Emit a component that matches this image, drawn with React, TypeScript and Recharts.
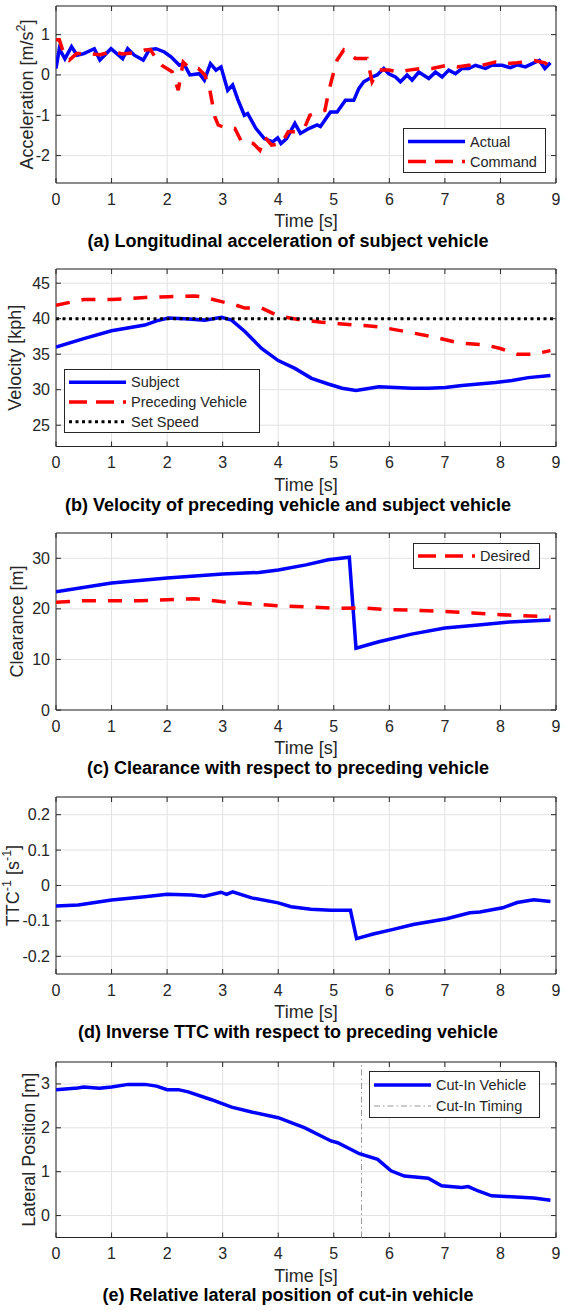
import React from 'react';
import { LineChart, Line, XAxis, YAxis, CartesianGrid, ReferenceArea, ReferenceLine, Legend } from 'recharts';

const FONT = '"Liberation Sans", Arial, Helvetica, sans-serif';
const TXT = '#262626';
const W = 571;
const PLOT_LEFT = 56;
const PLOT_RIGHT = 556;
const MT = 10;
const XAXIS_H = 50;
const BLUE = '#0000ff';
const RED = '#ff0000';
const TICK_FS = 16;
const LABEL_FS = 18;

const timeTicks = [0, 1, 2, 3, 4, 5, 6, 7, 8, 9];

// (a) acceleration
const accActualT = [0, 0.06, 0.16, 0.28, 0.38, 0.5, 0.69, 0.79, 0.99, 1.2, 1.29, 1.41, 1.57, 1.68, 1.8, 1.95, 2.07, 2.22, 2.3, 2.41, 2.58, 2.67, 2.78, 2.88, 2.97, 3.09, 3.18, 3.27, 3.39, 3.45, 3.6, 3.75, 3.9, 3.99, 4.05, 4.15, 4.3, 4.4, 4.55, 4.7, 4.76, 4.94, 5.06, 5.21, 5.36, 5.45, 5.54, 5.69, 5.78, 5.9, 5.99, 6.11, 6.2, 6.32, 6.41, 6.53, 6.71, 6.83, 6.95, 7.07, 7.19, 7.31, 7.43, 7.55, 7.73, 7.85, 8.03, 8.18, 8.3, 8.45, 8.6, 8.7, 8.8, 8.9];
const accActualV = [0.16, 0.65, 0.4, 0.7, 0.49, 0.53, 0.65, 0.37, 0.65, 0.4, 0.65, 0.49, 0.37, 0.63, 0.65, 0.57, 0.45, 0.24, 0.28, 0.0, 0.03, -0.13, 0.28, 0.12, 0.2, -0.38, -0.25, -0.6, -1.0, -0.96, -1.33, -1.58, -1.66, -1.56, -1.7, -1.58, -1.2, -1.45, -1.33, -1.24, -1.28, -0.92, -0.92, -0.63, -0.63, -0.34, -0.17, -0.05, 0.0, 0.16, 0.03, -0.05, -0.17, 0.0, -0.13, 0.07, -0.09, 0.07, -0.05, 0.12, 0.03, 0.16, 0.16, 0.24, 0.16, 0.24, 0.24, 0.18, 0.25, 0.2, 0.3, 0.36, 0.16, 0.3];
const accCmdT = [0, 0.06, 0.12, 0.24, 0.37, 0.58, 0.8, 1.0, 1.2, 1.4, 1.6, 1.7, 1.78, 1.9, 2.09, 2.2, 2.29, 2.41, 2.56, 2.68, 2.77, 2.86, 2.92, 3.07, 3.22, 3.34, 3.55, 3.67, 3.76, 3.88, 4.06, 4.18, 4.3, 4.48, 4.57, 4.84, 4.9, 4.96, 5.06, 5.18, 5.39, 5.6, 5.69, 5.81, 5.99, 6.17, 6.35, 6.59, 6.77, 7.04, 7.22, 7.43, 7.67, 7.91, 8.09, 8.3, 8.6, 8.8, 8.9];
const accCmdV = [0.87, 0.87, 0.62, 0.37, 0.53, 0.53, 0.5, 0.58, 0.52, 0.55, 0.62, 0.63, 0.45, 0.24, 0.08, -0.38, 0.32, 0.16, 0.16, 0.0, -0.38, -1.04, -1.24, -1.33, -1.33, -1.66, -1.7, -1.87, -1.54, -1.74, -1.7, -1.41, -1.41, -1.29, -1.0, -0.88, -0.47, -0.13, 0.37, 0.62, 0.41, 0.41, -0.17, 0.12, 0.12, 0.07, 0.12, 0.16, 0.16, 0.24, 0.2, 0.24, 0.24, 0.32, 0.28, 0.3, 0.36, 0.3, 0.2];
const accTicks = [-2, -1, 0, 1];

// (b) velocity
const velSubjT = [0, 0.5, 1.0, 1.6, 1.81, 2.02, 2.32, 2.68, 2.98, 3.16, 3.4, 3.7, 4.0, 4.3, 4.6, 4.9, 5.15, 5.4, 5.57, 5.81, 6.11, 6.41, 6.71, 7.01, 7.31, 7.61, 7.91, 8.21, 8.5, 8.9];
const velSubjV = [36.0, 37.2, 38.3, 39.1, 39.7, 40.1, 40.0, 39.8, 40.2, 39.8, 38.2, 35.8, 34.1, 33.0, 31.6, 30.8, 30.2, 29.9, 30.1, 30.4, 30.3, 30.2, 30.2, 30.3, 30.6, 30.8, 31.0, 31.3, 31.7, 32.0];
const velPrecT = [0, 0.25, 0.5, 1.0, 1.6, 2.02, 2.5, 2.68, 2.98, 3.2, 3.4, 3.7, 4.0, 4.36, 4.78, 5.1, 5.38, 5.6, 5.86, 6.28, 6.82, 7.25, 7.73, 8.0, 8.3, 8.6, 8.9];
const velPrecV = [41.9, 42.3, 42.7, 42.7, 43.0, 43.1, 43.2, 43.0, 42.4, 42.0, 41.5, 41.5, 40.4, 39.9, 39.5, 39.3, 39.1, 39.0, 38.8, 38.2, 37.4, 36.6, 36.3, 35.8, 35.0, 35.0, 35.5];
const setSpeedT = [0, 9];
const setSpeedV = [40, 40];
const velTicks = [25, 30, 35, 40, 45];

// (c) clearance
const clrSubjT = [0, 1, 2, 3, 3.65, 4.0, 4.5, 4.9, 5.28, 5.4, 5.81, 6.4, 7.0, 7.6, 8.16, 8.9];
const clrSubjV = [23.4, 25.1, 26.1, 26.9, 27.2, 27.7, 28.7, 29.7, 30.2, 12.2, 13.5, 15.0, 16.2, 16.8, 17.4, 17.8];
const clrDesT = [0, 0.5, 1.5, 2.0, 2.5, 3.0, 3.5, 4.0, 4.5, 5.0, 5.5, 5.9, 6.5, 7.0, 7.5, 8.1, 8.9];
const clrDesV = [21.3, 21.6, 21.6, 21.8, 22.0, 21.4, 21.0, 20.6, 20.4, 20.1, 20.2, 19.9, 19.7, 19.5, 19.2, 18.8, 18.4];
const clrTicks = [0, 10, 20, 30];

// (d) inverse TTC
const ttcT = [0, 0.4, 1.0, 1.6, 2.0, 2.44, 2.67, 2.97, 3.07, 3.18, 3.52, 4.0, 4.23, 4.59, 4.95, 5.3, 5.41, 5.71, 6.07, 6.43, 7.03, 7.45, 7.63, 8.04, 8.3, 8.6, 8.9];
const ttcV = [-0.058, -0.055, -0.041, -0.032, -0.025, -0.027, -0.03, -0.019, -0.025, -0.018, -0.035, -0.049, -0.06, -0.067, -0.07, -0.07, -0.15, -0.137, -0.124, -0.11, -0.094, -0.077, -0.075, -0.063, -0.048, -0.04, -0.045];
const ttcTicks = [-0.2, -0.1, 0, 0.1, 0.2];
const ttcTickLabels = ['-0.2', '-0.1', '0', '0.1', '0.2'];

// (e) lateral position
const latT = [0, 0.39, 0.5, 0.78, 1.0, 1.3, 1.6, 1.81, 2.0, 2.2, 2.38, 2.8, 3.16, 3.52, 4.0, 4.48, 4.95, 5.07, 5.46, 5.79, 6.03, 6.27, 6.7, 6.94, 7.3, 7.42, 7.6, 7.84, 8.2, 8.6, 8.9];
const latV = [2.87, 2.91, 2.93, 2.9, 2.93, 2.99, 2.99, 2.95, 2.87, 2.87, 2.82, 2.64, 2.47, 2.36, 2.23, 2.0, 1.7, 1.66, 1.41, 1.28, 1.02, 0.9, 0.85, 0.68, 0.64, 0.66, 0.56, 0.45, 0.43, 0.4, 0.35];
const cutInTiming = [5.5];
const latTicks = [0, 1, 2, 3];

const pts = (t: number[], v: number[]) => t.map((x, i) => ({ t: x, v: v[i] }));

type Ser = { name: string; data: { t: number; v: number }[]; color: string; width: number; dash?: string; legendDash?: string };
type LegendSpec = { left: number; top: number; w: number; h: number; items: Ser[] };

const DASH = '14 12';
const LDASH = '18 9';
const DOT = '3 3.5';
const DASHDOT = '6 3 1.5 3';
const CUT_COLOR = '#8a8a8a';

function LegendBox({ spec }: { spec: LegendSpec }) {
  const n = spec.items.length;
  const rowH = n === 1 ? spec.h : (spec.h - 5) / n;
  const pad = n === 1 ? 0 : 2.5;
  return (
    <svg width={spec.w} height={spec.h} style={{ display: 'block' }}>
      <rect x={0.5} y={0.5} width={spec.w - 1} height={spec.h - 1} fill="#ffffff" stroke={TXT} strokeWidth={1} />
      {spec.items.map((it, i) => {
        const cy = pad + rowH * (i + 0.5) + (n === 1 ? 0 : 1);
        return (
          <g key={it.name}>
            <line x1={5} x2={62} y1={cy} y2={cy} stroke={it.color} strokeWidth={it.width} strokeDasharray={it.legendDash} />
            <text x={67} y={cy} dominantBaseline="central" fontSize={14.5} fill={TXT} fontFamily={FONT}>{it.name}</text>
          </g>
        );
      })}
    </svg>
  );
}

type PanelProps = {
  plotTop: number;
  plotBottom: number;
  domain: [number, number];
  yTicks: number[];
  yTickLabels?: string[];
  yLabel: React.ReactNode;
  yLabelX: number;
  caption: string;
  series: Ser[];
  legend?: LegendSpec;
  vlines?: { x: number; color: string; dash: string; width: number }[];
};

function Panel(p: PanelProps) {
  const T = p.plotTop - MT;
  const plotH = p.plotBottom - p.plotTop;
  const H = MT + plotH + XAXIS_H;
  const yb = MT + plotH;

  const xTick = (props: any) => {
    const { x, payload } = props;
    return (
      <g>
        <line x1={x} x2={x} y1={yb} y2={yb - 5} stroke={TXT} strokeWidth={1} />
        <line x1={x} x2={x} y1={MT} y2={MT + 5} stroke={TXT} strokeWidth={1} />
        <text x={x} y={yb + 16} textAnchor="middle" dominantBaseline="central" fontSize={TICK_FS} fill={TXT} fontFamily={FONT}>{payload.value}</text>
      </g>
    );
  };
  const yTick = (props: any) => {
    const { y, payload, index } = props;
    const label = p.yTickLabels ? p.yTickLabels[index] : String(payload.value);
    return (
      <g>
        <line x1={PLOT_LEFT} x2={PLOT_LEFT + 5} y1={y} y2={y} stroke={TXT} strokeWidth={1} />
        <line x1={PLOT_RIGHT - 5} x2={PLOT_RIGHT} y1={y} y2={y} stroke={TXT} strokeWidth={1} />
        <text x={PLOT_LEFT - 6} y={y} textAnchor="end" dominantBaseline="central" fontSize={TICK_FS} fill={TXT} fontFamily={FONT}>{label}</text>
      </g>
    );
  };
  const xLabel = () => (
    <text x={(PLOT_LEFT + PLOT_RIGHT) / 2} y={yb + 38} textAnchor="middle" dominantBaseline="central" fontSize={LABEL_FS} fill={TXT} fontFamily={FONT}>Time [s]</text>
  );
  const cy = MT + plotH / 2;
  const yLabel = () => (
    <text x={p.yLabelX} y={cy} transform={`rotate(-90 ${p.yLabelX} ${cy})`} textAnchor="middle" dominantBaseline="central" fontSize={LABEL_FS} fill={TXT} fontFamily={FONT}>{p.yLabel}</text>
  );

  return (
    <>
      <div style={{ position: 'absolute', left: 0, top: T, width: W, height: H }}>
        <LineChart width={W} height={H} margin={{ top: MT, right: W - PLOT_RIGHT, bottom: 0, left: 0 }}>
          <CartesianGrid stroke="#e2e2e2" strokeWidth={1} />
          <XAxis dataKey="t" type="number" domain={[0, 9]} ticks={timeTicks} interval={0} height={XAXIS_H} tickSize={0} tickMargin={0} axisLine={false} tickLine={false} tick={xTick} allowDataOverflow label={xLabel} />
          <YAxis type="number" domain={p.domain} ticks={p.yTicks} interval={0} width={PLOT_LEFT} tickSize={0} tickMargin={0} axisLine={false} tickLine={false} tick={yTick} allowDataOverflow label={yLabel} />
          {(p.vlines || []).map((v, i) => (
            <ReferenceLine key={'v' + i} x={v.x} stroke={v.color} strokeDasharray={v.dash} strokeWidth={v.width} />
          ))}
          {p.series.map((s) => (
            <Line key={s.name} name={s.name} data={s.data} dataKey="v" type="linear" stroke={s.color} strokeWidth={s.width} strokeDasharray={s.dash} dot={false} activeDot={false} isAnimationActive={false} />
          ))}
          <ReferenceArea x1={0} x2={9} y1={p.domain[0]} y2={p.domain[1]} fill="none" stroke={TXT} strokeWidth={1} />
          {p.legend ? (
            <Legend layout="horizontal" verticalAlign="middle" align="center" content={() => <LegendBox spec={p.legend as LegendSpec} />}
              wrapperStyle={{ left: p.legend.left, top: p.legend.top - T, width: p.legend.w, height: p.legend.h, right: 'auto', bottom: 'auto' }} />
          ) : null}
        </LineChart>
      </div>
      <div style={{ position: 'absolute', left: 0, top: p.plotBottom + 58 - 12, width: 576, height: 24, lineHeight: '24px', textAlign: 'center', fontFamily: FONT, fontWeight: 'bold', fontSize: 18, color: '#000', whiteSpace: 'nowrap' }}>
        {p.caption}
      </div>
    </>
  );
}

export default function App() {
  const sA: Ser[] = [
    { name: 'Actual', data: pts(accActualT, accActualV), color: BLUE, width: 3.5 },
    { name: 'Command', data: pts(accCmdT, accCmdV), color: RED, width: 3.5, dash: DASH, legendDash: LDASH },
  ];
  const sB: Ser[] = [
    { name: 'Subject', data: pts(velSubjT, velSubjV), color: BLUE, width: 3.5 },
    { name: 'Preceding Vehicle', data: pts(velPrecT, velPrecV), color: RED, width: 3.5, dash: DASH, legendDash: LDASH },
    { name: 'Set Speed', data: pts(setSpeedT, setSpeedV), color: '#000000', width: 3, dash: DOT, legendDash: DOT },
  ];
  const sCsubj: Ser = { name: 'Subject', data: pts(clrSubjT, clrSubjV), color: BLUE, width: 3.5 };
  const sCdes: Ser = { name: 'Desired', data: pts(clrDesT, clrDesV), color: RED, width: 3.5, dash: DASH, legendDash: LDASH };
  const sD: Ser[] = [{ name: 'TTC', data: pts(ttcT, ttcV), color: BLUE, width: 3.5 }];
  const sE: Ser[] = [{ name: 'Cut-In Vehicle', data: pts(latT, latV), color: BLUE, width: 3.5 }];
  const cutItem: Ser = { name: 'Cut-In Timing', data: [], color: CUT_COLOR, width: 0.9, legendDash: DASHDOT };

  return (
    <div style={{ position: 'absolute', left: 0, top: 0, width: W, height: 1310, background: '#fff' }}>
      <Panel plotTop={6} plotBottom={183} domain={[-2.68, 1.71]} yTicks={accTicks}
        yLabel={<><tspan>Acceleration [m/s</tspan><tspan dy={-6} fontSize={12.5}>2</tspan><tspan dy={6}>]</tspan></>}
        yLabelX={27} caption="(a) Longitudinal acceleration of subject vehicle" series={sA}
        legend={{ left: 403, top: 128, w: 143, h: 45, items: sA }} />
      <Panel plotTop={269} plotBottom={446.5} domain={[22, 47]} yTicks={velTicks}
        yLabel="Velocity [kph]" yLabelX={15} caption="(b) Velocity of preceding vehicle and subject vehicle" series={sB}
        legend={{ left: 64, top: 369, w: 196, h: 64, items: sB }} />
      <Panel plotTop={533} plotBottom={710} domain={[0, 35]} yTicks={clrTicks}
        yLabel="Clearance [m]" yLabelX={17} caption="(c) Clearance with respect to preceding vehicle" series={[sCsubj, sCdes]}
        legend={{ left: 413, top: 543, w: 127, h: 26, items: [sCdes] }} />
      <Panel plotTop={797} plotBottom={974} domain={[-0.25, 0.25]} yTicks={ttcTicks} yTickLabels={ttcTickLabels}
        yLabel={<><tspan>TTC</tspan><tspan dy={-6} fontSize={12.5}>-1</tspan><tspan dy={6}> [s</tspan><tspan dy={-6} fontSize={12.5}>-1</tspan><tspan dy={6}>]</tspan></>}
        yLabelX={13} caption="(d) Inverse TTC with respect to preceding vehicle" series={sD} />
      <Panel plotTop={1061.5} plotBottom={1237} domain={[-0.5, 3.5]} yTicks={latTicks}
        yLabel="Lateral Position [m]" yLabelX={28.5} caption="(e) Relative lateral position of cut-in vehicle" series={sE}
        vlines={cutInTiming.map((x) => ({ x, color: CUT_COLOR, dash: DASHDOT, width: 0.9 }))}
        legend={{ left: 369, top: 1071, w: 171, h: 47, items: [sE[0], cutItem] }} />
    </div>
  );
}
